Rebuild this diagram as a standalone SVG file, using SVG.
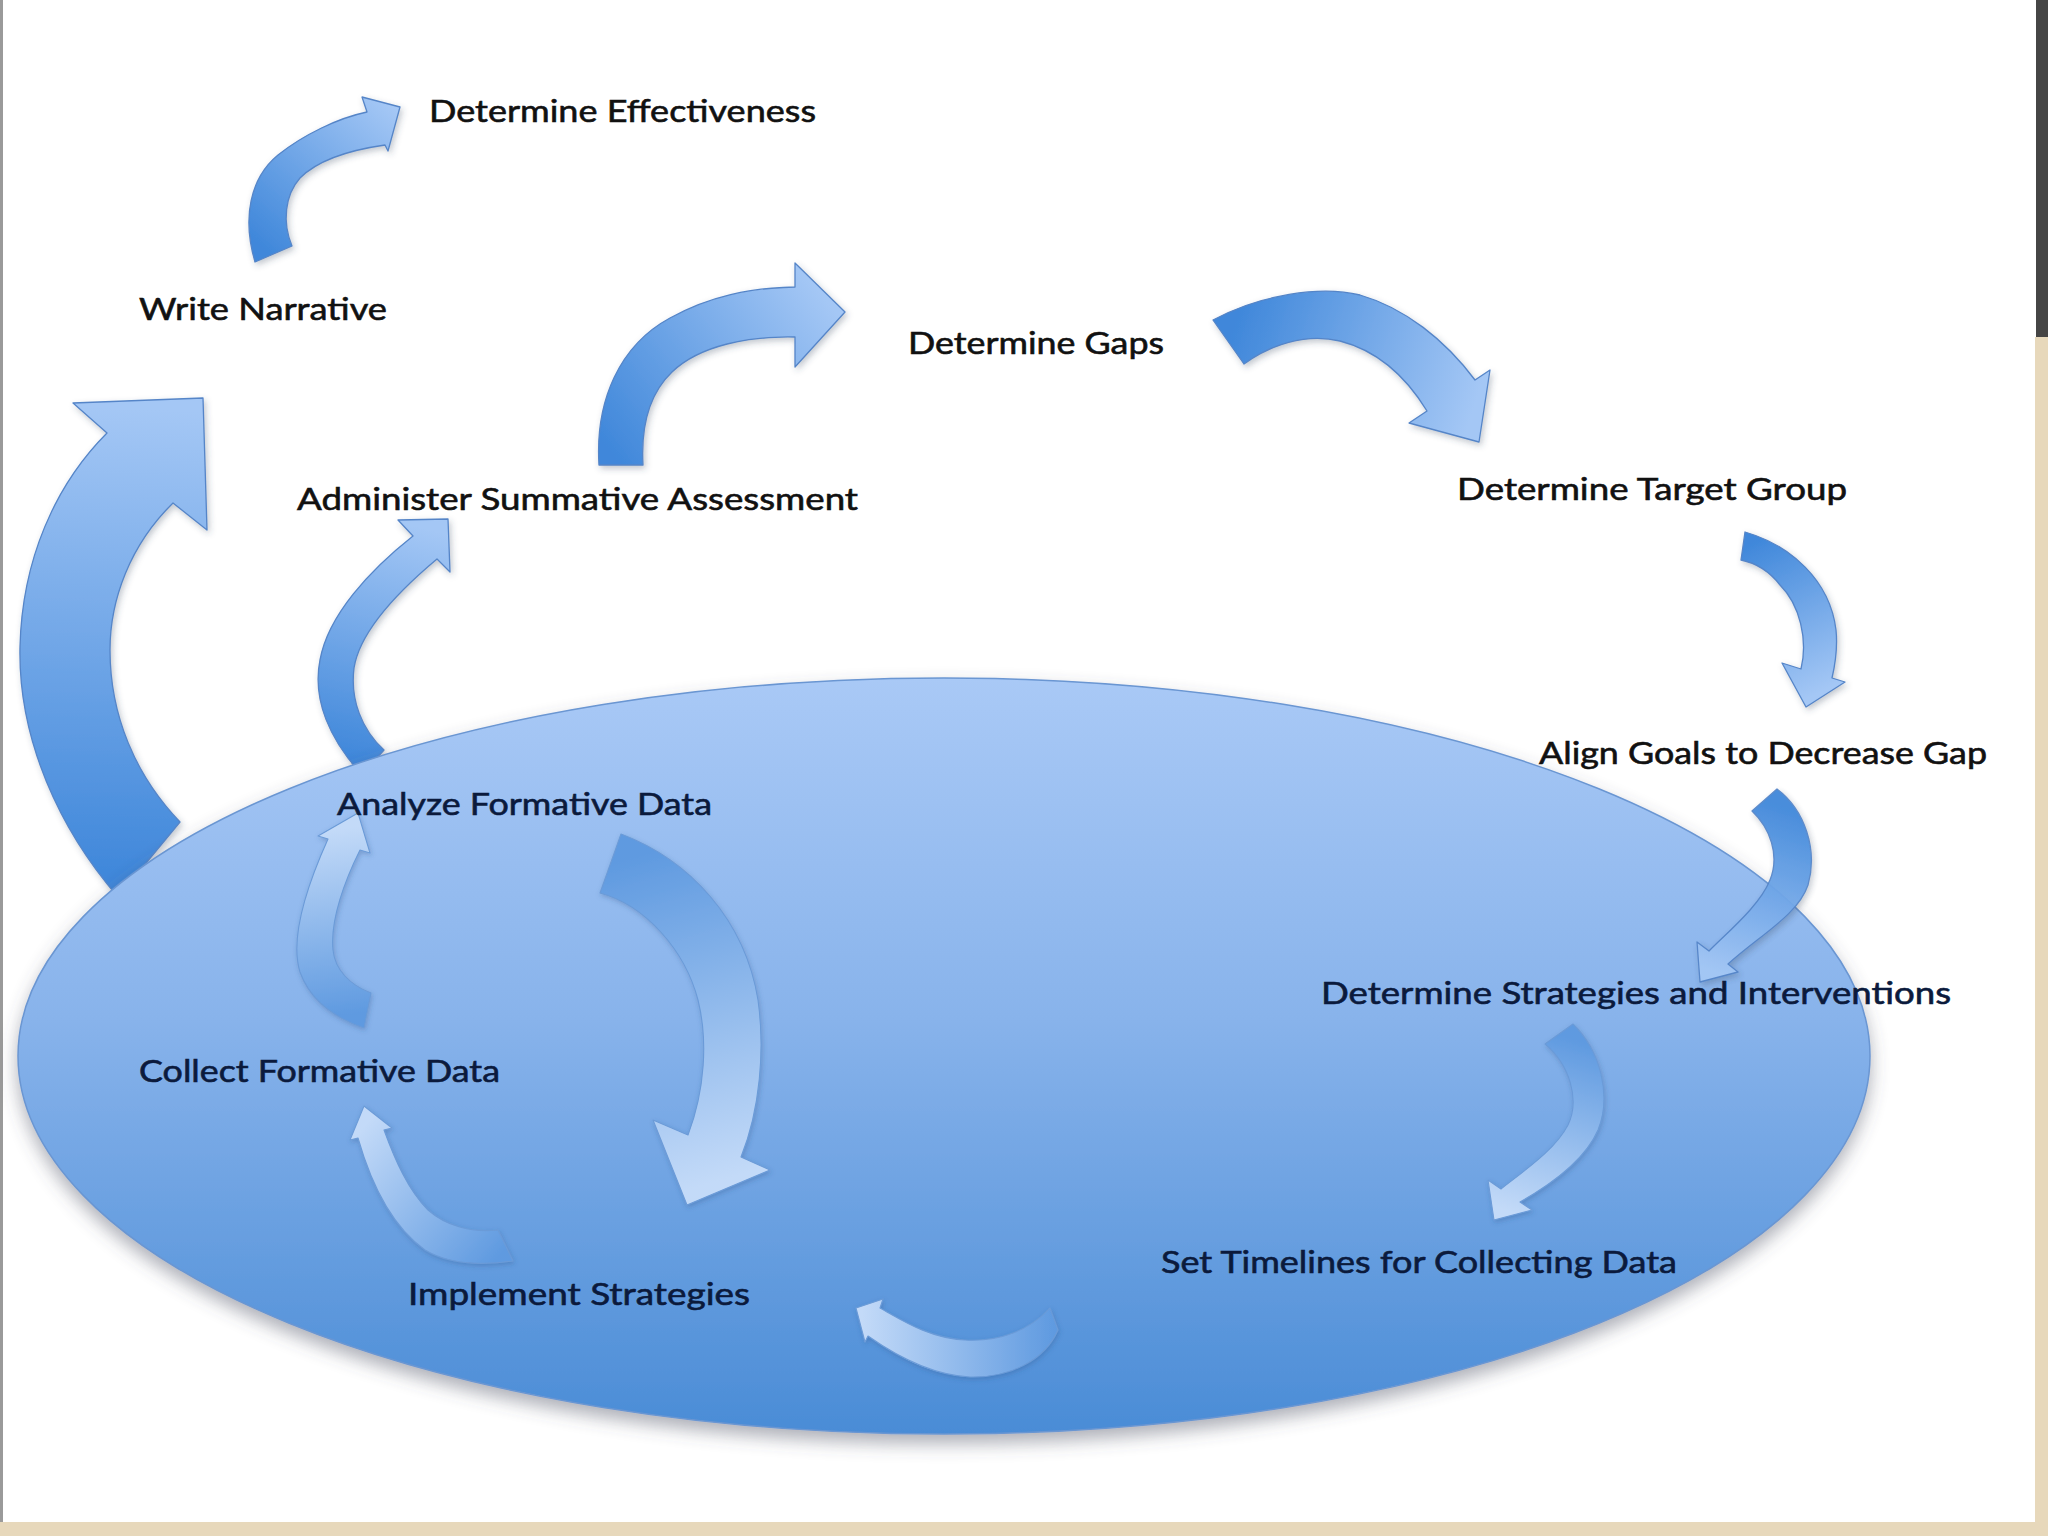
<svg xmlns="http://www.w3.org/2000/svg" xmlns:xlink="http://www.w3.org/1999/xlink" width="2048" height="1536" viewBox="0 0 2048 1536">
<defs>
<style>
.lbl{font-family:Lato,"Open Sans","Liberation Sans",sans-serif;font-size:31px;stroke-width:0.6px;}
.out{fill:#111111;stroke:#111111;}
.in{fill:#0b1a3c;stroke:#0b1a3c;}
.arr{stroke:#5585c8;stroke-width:1.3;stroke-linejoin:round;filter:url(#sh);}
.arrIn{stroke:#6b9bd8;stroke-width:1.1;stroke-linejoin:round;filter:url(#shIn);}
</style>
<linearGradient id="gOut"><stop offset="0" stop-color="#3f87da"/><stop offset="1" stop-color="#a4c7f5"/></linearGradient>
<linearGradient id="gIn"><stop offset="0" stop-color="#5f9ae0"/><stop offset="1" stop-color="#c3daf8"/></linearGradient>
<linearGradient id="gA" xlink:href="#gOut" gradientUnits="userSpaceOnUse" x1="270" y1="255" x2="395" y2="110"/>
<linearGradient id="gB" xlink:href="#gOut" gradientUnits="userSpaceOnUse" x1="140" y1="880" x2="160" y2="410"/>
<linearGradient id="gL" xlink:href="#gOut" gradientUnits="userSpaceOnUse" x1="372" y1="765" x2="430" y2="530"/>
<linearGradient id="gC" xlink:href="#gOut" gradientUnits="userSpaceOnUse" x1="620" y1="465" x2="830" y2="305"/>
<linearGradient id="gD" xlink:href="#gOut" gradientUnits="userSpaceOnUse" x1="1228" y1="342" x2="1470" y2="420"/>
<linearGradient id="gE" xlink:href="#gOut" gradientUnits="userSpaceOnUse" x1="1743" y1="546" x2="1815" y2="695"/>
<linearGradient id="gF" xlink:href="#gOut" gradientUnits="userSpaceOnUse" x1="1765" y1="800" x2="1710" y2="970"/>
<linearGradient id="gG" xlink:href="#gIn" gradientUnits="userSpaceOnUse" x1="1560" y1="1035" x2="1505" y2="1210"/>
<linearGradient id="gH" xlink:href="#gIn" gradientUnits="userSpaceOnUse" x1="1055" y1="1320" x2="862" y2="1318"/>
<linearGradient id="gI" xlink:href="#gIn" gradientUnits="userSpaceOnUse" x1="508" y1="1246" x2="368" y2="1122"/>
<linearGradient id="gJ" xlink:href="#gIn" gradientUnits="userSpaceOnUse" x1="367" y1="1012" x2="345" y2="828"/>
<linearGradient id="gK" xlink:href="#gIn" gradientUnits="userSpaceOnUse" x1="611" y1="864" x2="705" y2="1185"/>
<linearGradient id="gEll" x1="0" y1="0" x2="0" y2="1">
<stop offset="0" stop-color="#a9c9f6"/>
<stop offset="0.45" stop-color="#88b3eb"/>
<stop offset="1" stop-color="#4a8cd6"/>
</linearGradient>
<filter id="sh" x="-20%" y="-20%" width="140%" height="140%">
<feDropShadow dx="2" dy="3" stdDeviation="3" flood-color="#3a4a60" flood-opacity="0.3"/>
</filter>
<filter id="shIn" x="-20%" y="-20%" width="140%" height="140%">
<feDropShadow dx="1" dy="2" stdDeviation="2.5" flood-color="#2a4f86" flood-opacity="0.3"/>
</filter>
<filter id="shEll" x="-10%" y="-10%" width="120%" height="125%">
<feDropShadow dx="0" dy="9" stdDeviation="9" flood-color="#4a5060" flood-opacity="0.45"/>
</filter>
</defs>

<g id="background">
<rect x="0" y="0" width="2048" height="1536" fill="#ffffff"/>
<rect x="0" y="0" width="3" height="1522" fill="#9a9a9a"/>
<rect x="2036" y="0" width="12" height="337" fill="#454545"/>
<rect x="2035" y="337" width="13" height="1199" fill="#e7d8bb"/>
<rect x="0" y="1522" width="2048" height="14" fill="#e7d8bb"/>
</g>

<g id="connectors-behind">
<path id="arrow-narrative-cycle" class="arr" fill="url(#gB)" d="M118,897 C60,830 18,740 20,647 C22,560 55,485 107,433 L73,403 L203,398 L207,530 L173,503 C130,545 110,600 110,650 C110,715 135,775 180,822 Z"/>
<path id="arrow-analyze-administer" class="arr" fill="url(#gL)" d="M362,775 C330,740 312,700 320,660 C328,615 370,570 413,536 L398,520 L448,519 L450,572 L437,559 C400,590 360,630 354,668 C350,700 362,730 384,750 Z"/>
</g>

<g id="cycle-ellipse">
<ellipse cx="944" cy="1056" rx="926" ry="378" fill="url(#gEll)" stroke="#6a96d2" stroke-width="1.5" filter="url(#shEll)"/>
</g>

<g id="connectors">
<path id="arrow-narrative-effectiveness" class="arr" fill="url(#gA)" d="M255,262 C242,218 250,178 278,155 C303,135 338,118 367,112 L362,97 L400,107 L388,151 L385,145 C350,150 318,160 300,178 C285,195 282,222 292,246 Z"/>
<path id="arrow-administer-gaps" class="arr" fill="url(#gC)" d="M599,465 C595,400 620,345 670,318 C710,296 750,288 795,287 L795,263 L845,312 L795,367 L795,337 C750,336 700,345 672,372 C648,395 641,430 643,465 Z"/>
<path id="arrow-gaps-target" class="arr" fill="url(#gD)" d="M1213,320 C1260,295 1320,285 1360,295 C1405,308 1445,340 1475,380 L1490,370 L1479,442 L1409,423 L1427,411 C1405,375 1375,350 1340,341 C1305,333 1270,345 1244,364 Z"/>
<path id="arrow-target-align" class="arr" fill="url(#gE)" d="M1745,532 C1790,545 1830,580 1836,630 C1838,650 1835,665 1832,678 L1845,682 L1806,707 L1782,663 L1801,669 C1808,640 1800,605 1780,585 C1770,572 1756,563 1741,560 Z"/>
<path id="arrow-align-strategies" class="arr" fill="url(#gF)" opacity="0.95" d="M1777,789 C1805,810 1818,850 1808,885 C1798,915 1760,935 1728,964 L1738,972 L1700,982 L1697,942 L1709,951 C1730,930 1760,905 1770,880 C1780,855 1770,828 1752,811 Z"/>
<path id="arrow-strategies-timelines" class="arrIn" fill="url(#gG)" d="M1573,1024 C1600,1050 1612,1095 1598,1130 C1585,1160 1550,1185 1520,1202 L1532,1210 L1494,1220 L1488,1180 L1501,1189 C1525,1170 1555,1150 1568,1125 C1580,1100 1570,1065 1545,1044 Z"/>
<path id="arrow-timelines-implement" class="arrIn" fill="url(#gH)" d="M1050,1308 C1030,1330 1000,1342 965,1340 C930,1338 905,1322 880,1308 L883,1299 L856,1308 L865,1342 L868,1336 C895,1355 930,1375 970,1377 C1010,1378 1045,1360 1058,1330 Z"/>
<path id="arrow-implement-collect" class="arrIn" fill="url(#gI)" d="M358,1138 C370,1180 390,1225 425,1250 C450,1265 485,1265 513,1261 L498,1230 C470,1233 445,1225 428,1210 C408,1190 395,1160 384,1130 L392,1128 L364,1106 L350,1140 Z"/>
<path id="arrow-collect-analyze" class="arrIn" fill="url(#gJ)" d="M328,839 C305,890 290,940 300,972 C310,1000 335,1018 364,1028 L371,993 C350,985 335,970 333,950 C330,920 345,880 360,850 L370,853 L358,813 L318,836 Z"/>
<path id="arrow-analyze-implement" class="arrIn" fill="url(#gK)" d="M621,834 C690,860 745,920 758,1000 C765,1050 760,1110 741,1157 L770,1170 L687,1205 L653,1120 L688,1135 C705,1090 708,1040 698,1000 C685,950 645,905 600,893 Z"/>
</g>

<g id="node-determine-effectiveness"><text class="lbl out" x="429" y="122" textLength="387" lengthAdjust="spacingAndGlyphs">Determine Effectiveness</text></g>
<g id="node-write-narrative"><text class="lbl out" x="139" y="320" textLength="248" lengthAdjust="spacingAndGlyphs">Write Narrative</text></g>
<g id="node-administer-summative"><text class="lbl out" x="297" y="510" textLength="561" lengthAdjust="spacingAndGlyphs">Administer Summative Assessment</text></g>
<g id="node-determine-gaps"><text class="lbl out" x="908" y="354" textLength="256" lengthAdjust="spacingAndGlyphs">Determine Gaps</text></g>
<g id="node-determine-target"><text class="lbl out" x="1457" y="500" textLength="390" lengthAdjust="spacingAndGlyphs">Determine Target Group</text></g>
<g id="node-align-goals"><text class="lbl out" x="1539" y="764" textLength="448" lengthAdjust="spacingAndGlyphs">Align Goals to Decrease Gap</text></g>
<g id="node-determine-strategies"><text class="lbl in" x="1321" y="1004" textLength="630" lengthAdjust="spacingAndGlyphs">Determine Strategies and Interventions</text></g>
<g id="node-analyze-formative"><text class="lbl in" x="337" y="815" textLength="375" lengthAdjust="spacingAndGlyphs">Analyze Formative Data</text></g>
<g id="node-collect-formative"><text class="lbl in" x="139" y="1082" textLength="361" lengthAdjust="spacingAndGlyphs">Collect Formative Data</text></g>
<g id="node-implement-strategies"><text class="lbl in" x="408" y="1305" textLength="342" lengthAdjust="spacingAndGlyphs">Implement Strategies</text></g>
<g id="node-set-timelines"><text class="lbl in" x="1161" y="1273" textLength="516" lengthAdjust="spacingAndGlyphs">Set Timelines for Collecting Data</text></g>
</svg>
